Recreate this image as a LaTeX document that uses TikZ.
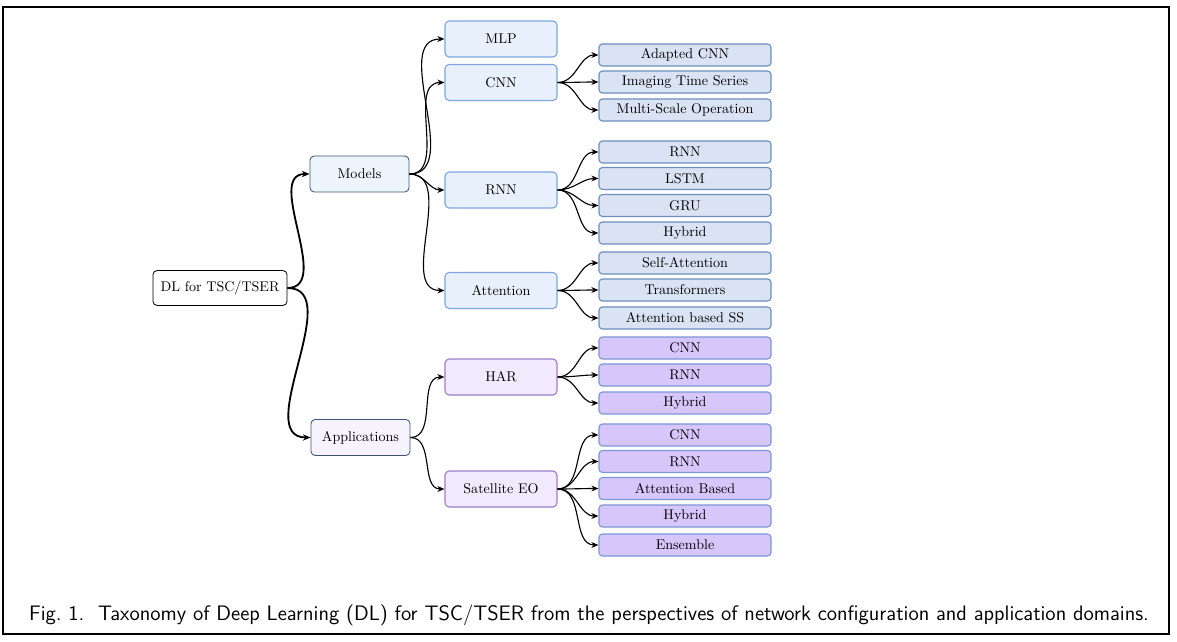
\documentclass[tikz,border=0pt]{standalone}
\usepackage{tikz}
\usetikzlibrary{arrows.meta}
\definecolor{rootfill}{HTML}{FFFFFF}
\definecolor{topline}{HTML}{3E5474}
\definecolor{modelfill}{HTML}{EEF4FC}
\definecolor{appfill}{HTML}{F6F3FD}
\definecolor{midbluefill}{HTML}{E8F0FC}
\definecolor{midblueline}{HTML}{7EA6E0}
\definecolor{midpurplefill}{HTML}{F1EAFC}
\definecolor{midpurpleline}{HTML}{9B7FC7}
\definecolor{leafbluefill}{HTML}{DAE3F3}
\definecolor{leafblueline}{HTML}{6C8EBF}
\definecolor{leafpurplefill}{HTML}{D6C6FA}
\definecolor{leafpurpleline}{HTML}{7C97D6}
\tikzset{
    rootarrow/.style={
        line width=1.3pt,
        black,
        -{Stealth[length=5.5pt, width=4.5pt]}
    },
    % thin arrows between the lower levels
    treearrow/.style={
        line width=0.8pt,
        black,
        -{Stealth[length=5pt, width=4.2pt]}
    },
    rootbox/.style={draw=black, line width=0.6pt, fill=rootfill, rounded corners=3pt,
        minimum width=3.35cm, minimum height=0.875cm},
    topbox/.style={draw=topline, line width=0.6pt, rounded corners=3pt,
        minimum width=2.475cm, minimum height=0.9cm},
    midbox/.style={line width=0.8pt, rounded corners=3pt,
        minimum width=2.8cm, minimum height=0.9cm},
    leafbox/.style={line width=0.8pt, rounded corners=2.5pt,
        minimum width=4.3cm, minimum height=0.55cm, inner sep=0pt}
}
\begin{document}
\begin{tikzpicture}[x=0.025cm, y=-0.025cm]
    % ========== frame ==========
    \useasboundingbox (0,0) rectangle (1177,642);
    \draw[line width=0.8pt] (3,7) rectangle (1169,634);

    % ========== root and first level ==========
    \node[rootbox] (dl) at (220,288) {DL for TSC/TSER};
    \node[topbox, fill=modelfill] (models) at (359.5,174) {Models};
    \node[topbox, fill=appfill] (apps) at (360.5,437.5) {Applications};

    % ========== second level ==========
    \node[midbox, draw=midblueline, fill=midbluefill] (mlp) at (501,39) {MLP};
    \node[midbox, draw=midblueline, fill=midbluefill] (cnn) at (501,82.5) {CNN};
    \node[midbox, draw=midblueline, fill=midbluefill] (rnn) at (501,190) {RNN};
    \node[midbox, draw=midblueline, fill=midbluefill] (att) at (501,290.5) {Attention};
    \node[midbox, draw=midpurpleline, fill=midpurplefill] (har) at (501,377) {HAR};
    \node[midbox, draw=midpurpleline, fill=midpurplefill] (sat) at (501,489) {Satellite EO};

    % ========== leaves ==========
    \node[leafbox, draw=leafblueline, fill=leafbluefill] (cnn1) at (685,55) {Adapted CNN};
    \node[leafbox, draw=leafblueline, fill=leafbluefill] (cnn2) at (685,82) {Imaging Time Series};
    \node[leafbox, draw=leafblueline, fill=leafbluefill] (cnn3) at (685,110) {Multi-Scale Operation};

    \node[leafbox, draw=leafblueline, fill=leafbluefill] (rnn1) at (685,152) {RNN};
    \node[leafbox, draw=leafblueline, fill=leafbluefill] (rnn2) at (685,178.5) {LSTM};
    \node[leafbox, draw=leafblueline, fill=leafbluefill] (rnn3) at (685,205.5) {GRU};
    \node[leafbox, draw=leafblueline, fill=leafbluefill] (rnn4) at (685,233) {Hybrid};

    \node[leafbox, draw=leafblueline, fill=leafbluefill] (att1) at (685,263) {Self-Attention};
    \node[leafbox, draw=leafblueline, fill=leafbluefill] (att2) at (685,290) {Transformers};
    \node[leafbox, draw=leafblueline, fill=leafbluefill] (att3) at (685,318) {Attention based SS};

    \node[leafbox, draw=leafpurpleline, fill=leafpurplefill] (har1) at (685,348) {CNN};
    \node[leafbox, draw=leafpurpleline, fill=leafpurplefill] (har2) at (685,375) {RNN};
    \node[leafbox, draw=leafpurpleline, fill=leafpurplefill] (har3) at (685,403) {Hybrid};

    \node[leafbox, draw=leafpurpleline, fill=leafpurplefill] (sat1) at (685,435) {CNN};
    \node[leafbox, draw=leafpurpleline, fill=leafpurplefill] (sat2) at (685,461.5) {RNN};
    \node[leafbox, draw=leafpurpleline, fill=leafpurplefill] (sat3) at (685,488.5) {Attention Based};
    \node[leafbox, draw=leafpurpleline, fill=leafpurplefill] (sat4) at (685,516) {Hybrid};
    \node[leafbox, draw=leafpurpleline, fill=leafpurplefill] (sat5) at (685,545) {Ensemble};

    % ========== arrows ==========
    \draw[rootarrow] (dl.east) to[out=0, in=180] (models.west);
    \draw[rootarrow] (dl.east) to[out=0, in=180] (apps.west);

    \draw[treearrow] (models.east) to[out=0, in=180] (mlp.west);
    \draw[treearrow] (models.east) to[out=0, in=180] (cnn.west);
    \draw[treearrow] (models.east) to[out=0, in=180] (rnn.west);
    \draw[treearrow] (models.east) to[out=0, in=180] (att.west);
    \draw[treearrow] (apps.east) to[out=0, in=180] (har.west);
    \draw[treearrow] (apps.east) to[out=0, in=180] (sat.west);

    \draw[treearrow] (cnn.east) to[out=0, in=180] (cnn1.west);
    \draw[treearrow] (cnn.east) to[out=0, in=180] (cnn2.west);
    \draw[treearrow] (cnn.east) to[out=0, in=180] (cnn3.west);

    \draw[treearrow] (rnn.east) to[out=0, in=180] (rnn1.west);
    \draw[treearrow] (rnn.east) to[out=0, in=180] (rnn2.west);
    \draw[treearrow] (rnn.east) to[out=0, in=180] (rnn3.west);
    \draw[treearrow] (rnn.east) to[out=0, in=180] (rnn4.west);

    \draw[treearrow] (att.east) to[out=0, in=180] (att1.west);
    \draw[treearrow] (att.east) to[out=0, in=180] (att2.west);
    \draw[treearrow] (att.east) to[out=0, in=180] (att3.west);

    \draw[treearrow] (har.east) to[out=0, in=180] (har1.west);
    \draw[treearrow] (har.east) to[out=0, in=180] (har2.west);
    \draw[treearrow] (har.east) to[out=0, in=180] (har3.west);

    \draw[treearrow] (sat.east) to[out=0, in=180] (sat1.west);
    \draw[treearrow] (sat.east) to[out=0, in=180] (sat2.west);
    \draw[treearrow] (sat.east) to[out=0, in=180] (sat3.west);
    \draw[treearrow] (sat.east) to[out=0, in=180] (sat4.west);
    \draw[treearrow] (sat.east) to[out=0, in=180] (sat5.west);

    % caption
    \node[anchor=base] (caption) at (589,620) {\sffamily\fontsize{14.9}{16}\selectfont Fig.~1.\ \ Taxonomy of Deep Learning (DL) for TSC/TSER from the perspectives of network configuration and application domains.};
\end{tikzpicture}
\end{document}
